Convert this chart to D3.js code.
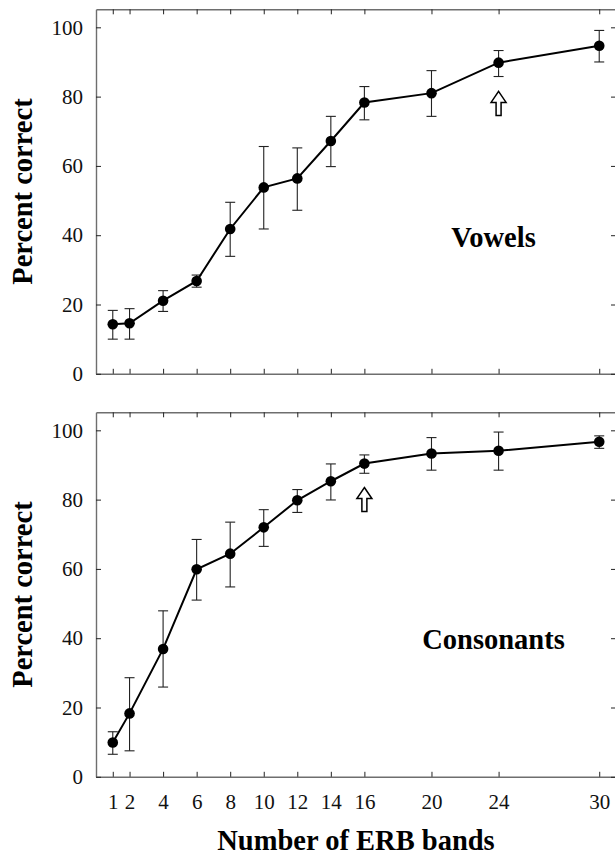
<!DOCTYPE html>
<html>
<head>
<meta charset="utf-8">
<script src="https://cdn.jsdelivr.net/npm/d3@7"></script>
<style>
  body { margin: 0; background: #fff; }
  svg { display: block; font-family: "Liberation Serif", "Times New Roman", serif; }
</style>
</head>
<body>
<svg id="chart" width="615" height="857"></svg>
<script>
// number of ERB bands (x)
const bands = [1, 2, 4, 6, 8, 10, 12, 14, 16, 20, 24, 30];
const xTicks = [1, 2, 4, 6, 8, 10, 12, 14, 16, 20, 24, 30];
const yTicks = [0, 20, 40, 60, 80, 100];

// vowels: mean, upper and lower error bar
const vowelMean = [14.3, 14.6, 21.1, 26.8, 41.8, 53.8, 56.4, 67.2, 78.3, 81.0, 89.8, 94.7];
const vowelHigh = [18.3, 18.8, 24.0, 28.5, 49.5, 65.6, 65.2, 74.3, 82.9, 87.5, 93.3, 99.1];
const vowelLow  = [10.0, 10.0, 18.0, 25.0, 33.9, 41.8, 47.2, 59.8, 73.3, 74.3, 85.8, 90.0];

// consonants
const consMean = [9.9, 18.3, 36.9, 59.9, 64.4, 72.0, 79.8, 85.3, 90.4, 93.3, 94.1, 96.7];
const consHigh = [13.0, 28.6, 47.9, 68.5, 73.5, 77.1, 82.9, 90.3, 92.9, 97.9, 99.5, 98.4];
const consLow  = [6.5, 7.5, 25.9, 51.0, 54.8, 66.5, 76.3, 79.9, 87.6, 88.5, 88.5, 94.8];

// arrow markers: [band, percent at arrow tip]
const vowelArrow = [24, 81.5];
const consArrow = [16, 83.5];

const svg = d3.select('#chart');
const left = 96, right = 616, panelH = 364.5;
const x = d3.scaleLinear().domain([0, 31]).range([left, right]);

function drawPanel(top, mean, high, low, label, labelPos, arrow, showXLabels) {
  const y = d3.scaleLinear().domain([0, 105.2]).range([top + panelH, top]);
  const g = svg.append('g');
  const frame = '#6e6e6e';

  const axes = [
    ['bottom', d3.axisBottom(x), top + panelH],
    ['top', d3.axisTop(x), top],
  ];
  axes.forEach(([name, ax, ty]) => {
    const a = g.append('g')
      .attr('transform', `translate(0,${ty})`)
      .call(ax.tickValues(xTicks).tickSizeInner(-5).tickSizeOuter(0).tickPadding(17)
        .tickFormat(name === 'bottom' && showXLabels ? d3.format('d') : ''));
    a.select('.domain').attr('stroke', frame).attr('stroke-width', 1.4);
    a.selectAll('.tick line').attr('stroke', '#222').attr('stroke-width', 1);
    a.selectAll('text').attr('font-size', 21).attr('fill', '#111')
      .attr('font-family', '"Liberation Serif", serif');
  });

  const yl = g.append('g')
    .attr('transform', `translate(${left},0)`)
    .call(d3.axisLeft(y).tickValues(yTicks).tickSizeInner(-5).tickSizeOuter(0).tickPadding(13));
  yl.select('.domain').attr('stroke', frame).attr('stroke-width', 1.4);
  yl.selectAll('.tick line').attr('stroke', '#222');
  yl.selectAll('text').attr('font-size', 21).attr('fill', '#111')
    .attr('font-family', '"Liberation Serif", serif');

  const yr = g.append('g')
    .attr('transform', `translate(${right},0)`)
    .call(d3.axisRight(y).tickValues(yTicks).tickSizeInner(-5).tickSizeOuter(0).tickFormat(''));
  yr.select('.domain').attr('stroke', frame).attr('stroke-width', 1.4);
  yr.selectAll('.tick line').attr('stroke', '#222');

  const pts = bands.map((b, i) => ({ b, m: mean[i], hi: high[i], lo: low[i] }));

  // error bars
  const eb = g.append('g').attr('stroke', '#222').attr('stroke-width', 1.1);
  eb.selectAll('line.v').data(pts).enter().append('line')
    .attr('x1', d => x(d.b)).attr('x2', d => x(d.b))
    .attr('y1', d => y(d.hi)).attr('y2', d => y(d.lo));
  ['hi', 'lo'].forEach(k => {
    eb.selectAll('line.' + k).data(pts).enter().append('line')
      .attr('x1', d => x(d.b) - 5).attr('x2', d => x(d.b) + 5)
      .attr('y1', d => y(d[k])).attr('y2', d => y(d[k]));
  });

  g.append('path')
    .datum(pts)
    .attr('fill', 'none')
    .attr('stroke', '#000')
    .attr('stroke-width', 2)
    .attr('d', d3.line().x(d => x(d.b)).y(d => y(d.m)));

  g.selectAll('circle').data(pts).enter().append('circle')
    .attr('cx', d => x(d.b)).attr('cy', d => y(d.m)).attr('r', 5.3)
    .attr('fill', '#000');

  // hollow up arrow
  const ax0 = x(arrow[0]), ay0 = y(arrow[1]);
  const arrowPts = [[0, 0], [7.5, 11], [2.5, 11], [2.5, 24], [-2.5, 24], [-2.5, 11], [-7.5, 11]];
  g.append('path')
    .attr('d', d3.line()(arrowPts.map(p => [ax0 + p[0], ay0 + p[1]])) + 'Z')
    .attr('fill', '#fff').attr('stroke', '#000').attr('stroke-width', 1.5)
    .attr('stroke-linejoin', 'miter');

  g.append('text')
    .attr('x', labelPos[0]).attr('y', labelPos[1])
    .attr('text-anchor', 'middle')
    .attr('font-size', 28.5).attr('font-weight', 'bold')
    .text(label);

  g.append('text')
    .attr('transform', `translate(31.5,${top + panelH / 2}) rotate(-90)`)
    .attr('text-anchor', 'middle')
    .attr('font-size', 28.5).attr('font-weight', 'bold')
    .text('Percent correct');
}

drawPanel(9.3, vowelMean, vowelHigh, vowelLow, 'Vowels', [493.5, 247], vowelArrow, false);
drawPanel(412.3, consMean, consHigh, consLow, 'Consonants', [493.5, 648.5], consArrow, true);

svg.append('text')
  .attr('x', 356).attr('y', 850)
  .attr('text-anchor', 'middle')
  .attr('font-size', 28.5).attr('font-weight', 'bold')
  .text('Number of ERB bands');
</script>
</body>
</html>
